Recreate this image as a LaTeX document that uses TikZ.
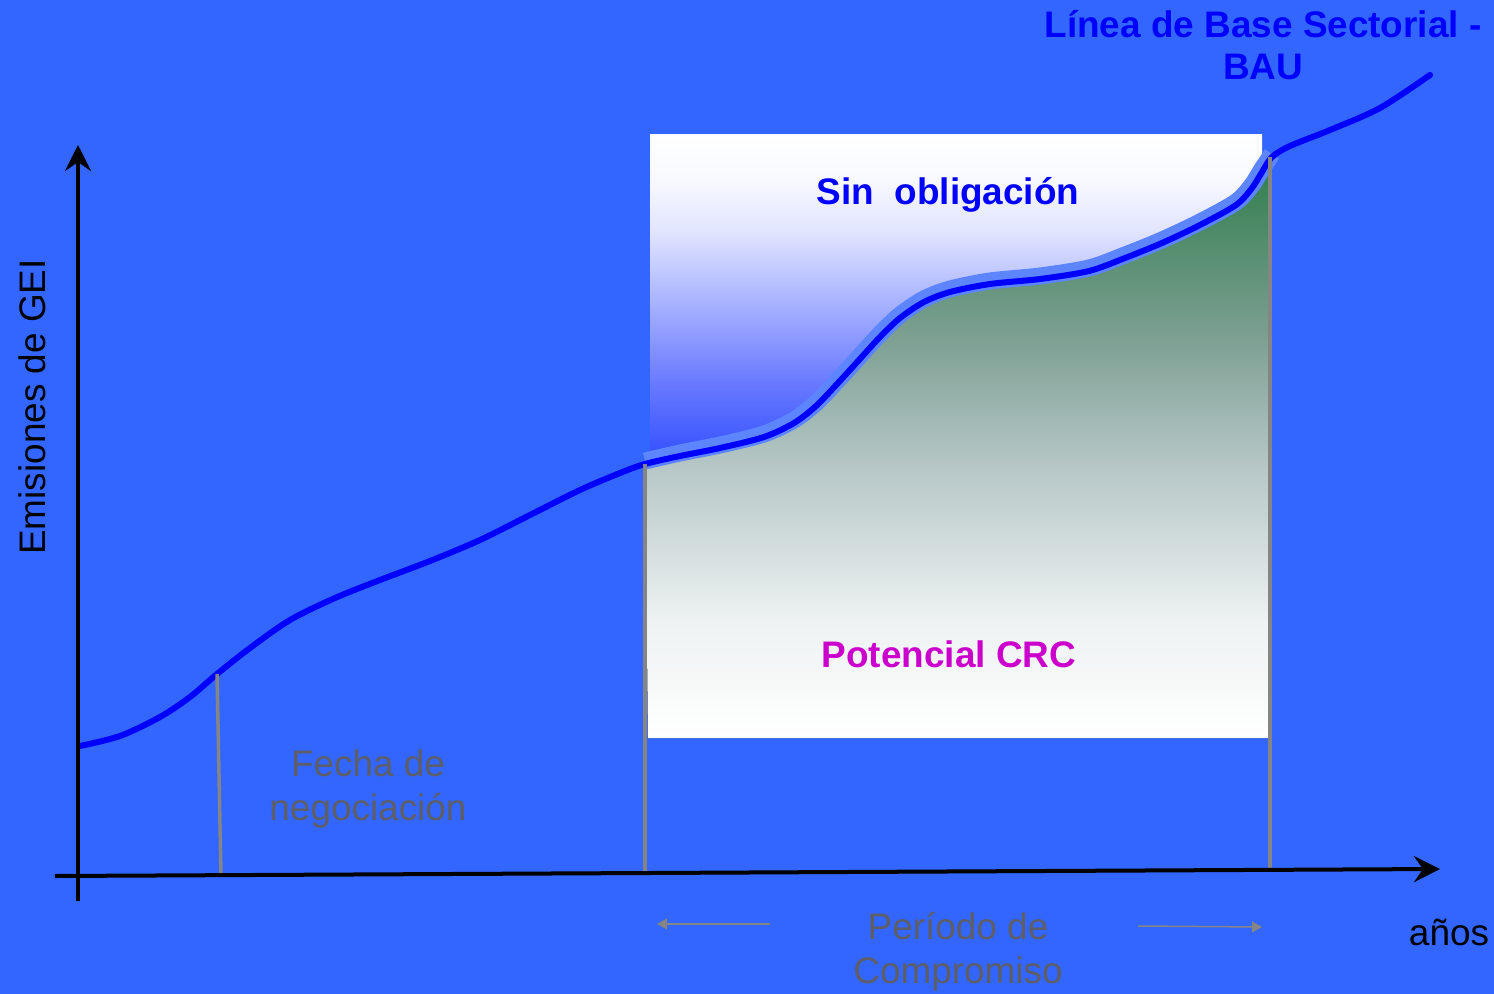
\documentclass[tikz,border=0pt]{standalone}
\usepackage{fontspec}
\setmainfont{Liberation Sans}
\usetikzlibrary{arrows.meta}
\definecolor{bgblue}{HTML}{3366FF}
\definecolor{bauline}{HTML}{0000FF}
\definecolor{crcmag}{HTML}{CC00CC}
\definecolor{notegray}{HTML}{5E5E66}
\definecolor{rulegray}{HTML}{858585}
\pgfdeclareverticalshading{freefade}{100bp}{color(0bp)=(rgb,255:red,48;green,72;blue,255);
	color(25bp)=(rgb,255:red,48;green,72;blue,255); color(28bp)=(rgb,255:red,58;green,85;blue,255);
	color(37.4bp)=(rgb,255:red,102;green,119;blue,255); color(47.4bp)=(rgb,255:red,154;green,166;blue,255);
	color(60.4bp)=(rgb,255:red,224;green,228;blue,255); color(68.3bp)=(rgb,255:red,248;green,249;blue,255);
	color(75bp)=(white); color(100bp)=(white)}
\pgfdeclareverticalshading{crcfade}{100bp}{color(0bp)=(white); color(25bp)=(white);
	color(35bp)=(rgb,255:red,238;green,242;blue,242); color(48bp)=(rgb,255:red,184;green,200;blue,200);
	color(60bp)=(rgb,255:red,122;green,158;blue,144); color(75bp)=(rgb,255:red,46;green,125;blue,75);
	color(100bp)=(rgb,255:red,46;green,125;blue,75)}
\tikzset{
	gei axis/.style={line width=0.4mm,-{Stealth[length=2.6mm,width=2.6mm,inset=0.9mm]}},
	guide/.style={rulegray,line width=0.35mm},
	period/.style={rulegray,line width=0.15mm,-{Triangle[length=1mm,width=1.1mm]}},
	bau/.style={bauline,line width=0.6mm,line cap=round},
	halo/.style={bgblue!80!white,line width=1.7mm},
	title/.style={font=\bfseries\fontsize{10.5}{12.2}\selectfont,align=center,inner sep=0pt,anchor=base},
	graytext/.style={notegray,font=\fontsize{10.5}{12.4}\selectfont,align=center,inner sep=0pt,anchor=base},
	every node/.style={inner sep=0pt}
}

\begin{document}
\begin{tikzpicture}[x=0.01cm,y=-0.01cm]
	\fill[bgblue] (0,0) rectangle (1494,994);
	\useasboundingbox (0,0) rectangle (1494,994);
	% period box
	\fill[shading=freefade] (650,135) rectangle (1262,470);
	\fill[shading=crcfade] plot[smooth] coordinates {(645,464) (680,456) (720,448) (764,437) (794,423) (816,406)
		(838,383) (859,360) (880,337) (900,318) (924,302) (950,292) (990,284) (1040,279) (1089,271) (1125,258)
		(1162,243) (1200,225) (1236,205) (1252,188) (1262,172) (1272,157)}
		-- (1268,738) -- (648,738) -- cycle;
	% baseline curve
	\draw[halo,yshift=0.03cm] plot[smooth] coordinates {(645,464) (680,456) (720,448) (764,437) (794,423) (816,406)
		(838,383) (859,360) (880,337) (900,318) (924,302) (950,292) (990,284) (1040,279) (1089,271) (1125,258)
		(1162,243) (1200,225) (1236,205) (1252,188) (1262,172) (1272,157)};
	\draw[bau] plot[smooth] coordinates {(80,746) (120,736) (160,717) (190,697) (217,674) (250,648) (290,620)
		(335,598) (380,580) (430,561) (480,540) (530,515) (580,490) (620,473) (645,464) (680,456) (720,448)
		(764,437) (794,423) (816,406) (838,383) (859,360) (880,337) (900,318) (924,302) (950,292) (990,284)
		(1040,279) (1089,271) (1125,258) (1162,243) (1200,225) (1236,205) (1252,188) (1262,172) (1272,157)
		(1290,146) (1330,130) (1380,108) (1430,75)};
	% guides
	\coordinate (neg top) at (217,674);
	\coordinate (neg bot) at (221,875);
	\coordinate (start top) at (645,464);
	\coordinate (start bot) at (645,873);
	\coordinate (end top) at (1270,157);
	\coordinate (end bot) at (1270,869);
	\draw[guide] (neg top) -- (neg bot);
	\draw[guide] (start top) -- (start bot);
	\draw[guide] (end top) -- (end bot);
	% axes
	\coordinate (y0) at (78,901);
	\coordinate (y1) at (78,145);
	\coordinate (x0) at (55,876);
	\coordinate (x1) at (1440,869);
	\draw[gei axis] (y0) -- (y1);
	\draw[gei axis] (x0) -- (x1);
	% labels
	\node[title,bauline] (bau) at (1263,80) {Línea de Base Sectorial -\\BAU};
	\node[title,bauline] (free) at (948,205) {Sin~~obligación};
	\node[title,crcmag] (crc) at (949,667) {Potencial CRC};
	\node[graytext] (neg) at (368,820) {Fecha de\\negociación};
	\node[graytext] (per) at (958,983) {Período de\\Compromiso};
	\node[anchor=base,font=\fontsize{10.5}{12.4}\selectfont] (years) at (1449,945) {años};
	\node[anchor=base,rotate=90,font=\fontsize{10.5}{12.4}\selectfont] (gei) at (45,407) {Emisiones de GEI};
	% period arrows
	\coordinate (pl from) at (770,924);
	\coordinate (pl to) at (657,924);
	\coordinate (pr from) at (1138,926);
	\coordinate (pr to) at (1262,927);
	\draw[period] (pl from) -- (pl to);
	\draw[period] (pr from) -- (pr to);
\end{tikzpicture}
\end{document}
